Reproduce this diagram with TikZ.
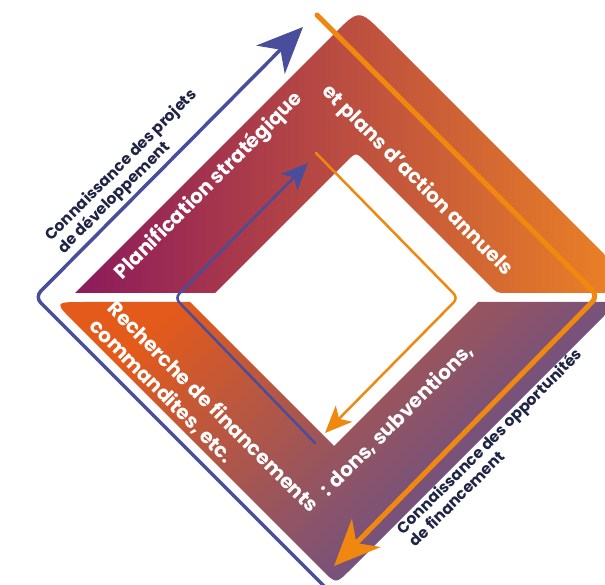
\documentclass[tikz,border=0pt]{standalone}
\usepackage{fontspec}
\setmainfont{Poppins}
\usetikzlibrary{arrows.meta}
\definecolor{planleft}{HTML}{8C1A5C}
\definecolor{planmid}{HTML}{B94B53}
\definecolor{planright}{HTML}{EF8622}
\definecolor{fundtop}{HTML}{E35A1B}
\definecolor{fundmid}{HTML}{9C5270}
\definecolor{fundbottom}{HTML}{4F4F9F}
\definecolor{arrowblue}{HTML}{4A4C9C}
\definecolor{arroworange}{HTML}{F0880F}
\definecolor{textnavy}{HTML}{1F2445}
\tikzset{
  bandtext/.style={text=white, font=\bfseries\fontsize{20}{25}\selectfont},
  sidetext/.style={text=textnavy, font=\bfseries\fontsize{15.5}{16}\selectfont, align=left},
  bigarrow/.style={line width=3.5pt, -{Stealth[length=46pt,width=40pt,inset=14pt]}},
  smallarrow/.style={line width=2.5pt, -{Stealth[length=27pt,width=23pt,inset=7pt]}},
}
\begin{document}
\begin{tikzpicture}[x=1pt,y=-1pt]
    \useasboundingbox (0,0) rectangle (605,585);
    \clip (0,0) rectangle (605,585);
    \shade [left color=planleft, middle color=planmid, right color=planright]
        (75,293)--(334,34) .. controls (359,9) .. (384,34)--(643,293)--(507,293) .. controls (497,293) .. (490,286)
        --(366,162) .. controls (356,152) .. (346,162)--(215,293)--cycle;
    \shade [top color=fundtop, middle color=fundmid, bottom color=fundbottom, shading angle=45]
        (84,302)--(190,302)--(334,446)--(478,302)--(618,302)--(350,570) .. controls (336,584) .. (322,570)
        --(75,323) .. controls (54,302) .. (84,302)--cycle;

    \draw [arrowblue, bigarrow, rounded corners=8pt] (330,592)--(35,297)--(303,27);
    \draw [arroworange, line width=5pt, line cap=round, -{Stealth[length=46pt,width=40pt,inset=14pt]}, rounded corners=8pt] (317,15)--(598,296)--(334,566);
    \draw [arrowblue, smallarrow, line cap=round, rounded corners=6pt] (315,443)--(175,298)--(308,163);
    \draw [arroworange, smallarrow, line cap=round, rounded corners=6pt] (316,153)--(458,298)--(325,433);

    \node [bandtext, rotate=45] (plan) at (209,186) {Planification stratégique};
    \node [bandtext, rotate=-45] (plans) at (417,181) {et plans d’action annuels};
    \node [bandtext, rotate=-45, align=left] (recherche) at (204,416) {Recherche de financements\\commandites, etc.};
    \node [bandtext, rotate=45] (dons) at (397,420) {: dons, subventions,};
    \node [sidetext, rotate=45] (projets) at (128,172) {Connaissance des projets\\de développement};
    \node [sidetext, rotate=45] (opport) at (495,447) {Connaissance des opportunités\\de financement};
\end{tikzpicture}
\end{document}
